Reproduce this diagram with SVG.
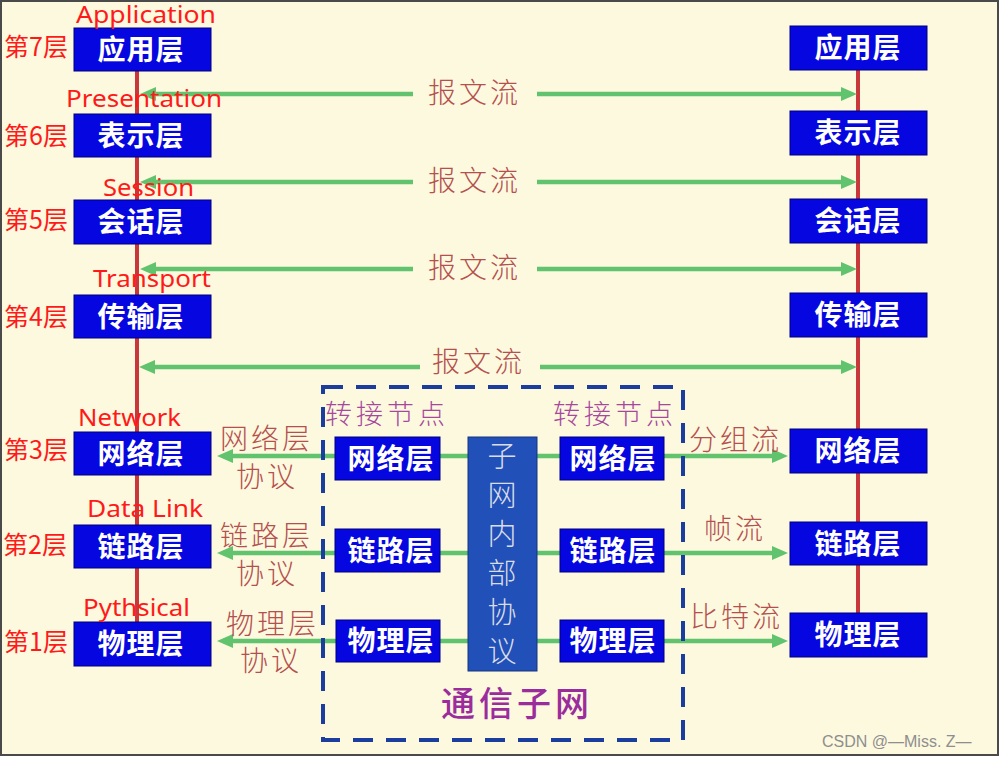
<svg xmlns="http://www.w3.org/2000/svg" width="1008" height="757" viewBox="0 0 1008 757">
<style>
.bg{fill:#fdf9df;stroke:#4a4a4a;stroke-width:2}
.box{fill:#0606e0;stroke:#00007a;stroke-width:1}
.mid{fill:#2150b8;stroke:#17357f;stroke-width:1}
.bt{font-family:"Noto Sans CJK SC",sans-serif;font-weight:bold;font-size:28px;fill:#ffffff;text-anchor:middle;letter-spacing:1px}
.mt{font-family:"Noto Sans CJK SC",sans-serif;font-weight:300;font-size:29px;fill:#d9dde8;text-anchor:middle}
.en{font-family:"Noto Sans","Liberation Sans",sans-serif;font-size:23px;fill:#ff1a1a}
.lv{font-family:"Noto Sans CJK SC",sans-serif;font-size:25px;fill:#ff1a1a}
.fl{font-family:"Noto Sans CJK SC",sans-serif;font-weight:300;font-size:28px;fill:#b4504d;letter-spacing:3px}
.pu{font-family:"Noto Sans CJK SC",sans-serif;font-weight:300;font-size:27px;fill:#a6489c;letter-spacing:4px}
.big{font-family:"Noto Sans CJK SC",sans-serif;font-weight:500;font-size:34px;fill:#9b2c9c;letter-spacing:4px}
.red{stroke:#c8383b;stroke-width:4;fill:none}
.gr{stroke:#62c36e;stroke-width:4.5;fill:none}
.dash{fill:none;stroke:#1b3d9e;stroke-width:4;stroke-dasharray:20 13}
.wm{font-family:"Liberation Sans",Arial,sans-serif;font-size:16px;fill:#8e8e8e}
</style>
<defs>
<marker id="ah" viewBox="0 0 16 14" refX="10" refY="7" markerWidth="16" markerHeight="14" markerUnits="userSpaceOnUse" orient="auto-start-reverse">
<path d="M0,0 L16,7 L0,14 z" fill="#62c36e"/>
</marker>
</defs>
<rect x="-10" y="-10" width="1030" height="780" fill="#ffffff"/>
<rect class="bg" x="1" y="1" width="997" height="754"/>

<g id="connectors">
<path class="red" d="M137,71 V622"/>
<path class="red" d="M858,70 V613"/>
<path class="gr" d="M146,94 H413" marker-start="url(#ah)"/>
<path class="gr" d="M537,94 H851" marker-end="url(#ah)"/>
<path class="gr" d="M146,182 H413" marker-start="url(#ah)"/>
<path class="gr" d="M537,182 H851" marker-end="url(#ah)"/>
<path class="gr" d="M146,269 H413" marker-start="url(#ah)"/>
<path class="gr" d="M537,269 H851" marker-end="url(#ah)"/>
<path class="gr" d="M145,367 H420" marker-start="url(#ah)"/>
<path class="gr" d="M540,367 H851" marker-end="url(#ah)"/>
<path class="gr" d="M223,456 H782" marker-start="url(#ah)" marker-end="url(#ah)"/>
<path class="gr" d="M223,553 H782" marker-start="url(#ah)" marker-end="url(#ah)"/>
<path class="gr" d="M223,641 H782" marker-start="url(#ah)" marker-end="url(#ah)"/>
</g>

<g id="flow-labels">
<text class="fl" x="428" y="103">报文流</text>
<text class="fl" x="428" y="191">报文流</text>
<text class="fl" x="428" y="278">报文流</text>
<text class="fl" x="432" y="372">报文流</text>
<text class="fl" x="220" y="449">网络层</text>
<text class="fl" x="236" y="487">协议</text>
<text class="fl" x="220" y="546">链路层</text>
<text class="fl" x="236" y="584">协议</text>
<text class="fl" x="226" y="634">物理层</text>
<text class="fl" x="240" y="671">协议</text>
<text class="fl" x="689" y="450">分组流</text>
<text class="fl" x="704" y="539">帧流</text>
<text class="fl" x="690" y="627">比特流</text>
</g>

<g id="subnet">
<rect class="dash" x="323" y="387" width="360" height="353"/>
<text class="pu" x="325" y="424">转接节点</text>
<text class="pu" x="553" y="424">转接节点</text>
<text class="big" x="441" y="716">通信子网</text>
</g>

<g id="left-stack">
<g id="L7"><rect class="box" x="74" y="28" width="137" height="43"/><text class="bt" x="141" y="60">应用层</text></g>
<g id="L6"><rect class="box" x="74" y="114" width="137" height="43"/><text class="bt" x="141" y="146">表示层</text></g>
<g id="L5"><rect class="box" x="74" y="200" width="137" height="44"/><text class="bt" x="141" y="232">会话层</text></g>
<g id="L4"><rect class="box" x="74" y="295" width="137" height="43"/><text class="bt" x="141" y="327">传输层</text></g>
<g id="L3"><rect class="box" x="74" y="432" width="137" height="43"/><text class="bt" x="141" y="464">网络层</text></g>
<g id="L2"><rect class="box" x="74" y="525" width="137" height="43"/><text class="bt" x="141" y="557">链路层</text></g>
<g id="L1"><rect class="box" x="74" y="622" width="137" height="44"/><text class="bt" x="141" y="654">物理层</text></g>
</g>

<g id="right-stack">
<g id="R7"><rect class="box" x="790" y="26" width="137" height="44"/><text class="bt" x="858" y="58">应用层</text></g>
<g id="R6"><rect class="box" x="790" y="111" width="137" height="44"/><text class="bt" x="858" y="143">表示层</text></g>
<g id="R5"><rect class="box" x="790" y="199" width="137" height="44"/><text class="bt" x="858" y="231">会话层</text></g>
<g id="R4"><rect class="box" x="790" y="293" width="137" height="44"/><text class="bt" x="858" y="325">传输层</text></g>
<g id="R3"><rect class="box" x="790" y="429" width="137" height="44"/><text class="bt" x="858" y="461">网络层</text></g>
<g id="R2"><rect class="box" x="790" y="522" width="137" height="43"/><text class="bt" x="858" y="554">链路层</text></g>
<g id="R1"><rect class="box" x="790" y="613" width="137" height="44"/><text class="bt" x="858" y="645">物理层</text></g>
</g>

<g id="relay-left">
<g id="IL3"><rect class="box" x="335" y="437" width="105" height="43"/><text class="bt" x="391" y="469">网络层</text></g>
<g id="IL2"><rect class="box" x="335" y="529" width="105" height="43"/><text class="bt" x="391" y="561">链路层</text></g>
<g id="IL1"><rect class="box" x="336" y="620" width="104" height="42"/><text class="bt" x="391" y="651">物理层</text></g>
</g>

<g id="relay-right">
<g id="IR3"><rect class="box" x="560" y="437" width="104" height="43"/><text class="bt" x="613" y="469">网络层</text></g>
<g id="IR2"><rect class="box" x="560" y="529" width="104" height="43"/><text class="bt" x="613" y="561">链路层</text></g>
<g id="IR1"><rect class="box" x="560" y="620" width="104" height="42"/><text class="bt" x="613" y="651">物理层</text></g>
</g>

<g id="subnet-protocol">
<rect class="mid" x="468" y="437" width="69" height="234"/>
<text class="mt" x="502" y="467">子</text>
<text class="mt" x="502" y="506">网</text>
<text class="mt" x="502" y="545">内</text>
<text class="mt" x="502" y="584">部</text>
<text class="mt" x="502" y="623">协</text>
<text class="mt" x="502" y="662">议</text>
</g>

<g id="layer-names">
<text class="en" x="76" y="23" font-size="20" textLength="140" lengthAdjust="spacingAndGlyphs">Application</text>
<text class="en" x="66" y="107" textLength="156" lengthAdjust="spacingAndGlyphs">Presentation</text>
<text class="en" x="103" y="196" font-size="22" textLength="91" lengthAdjust="spacingAndGlyphs">Session</text>
<text class="en" x="93" y="287" textLength="118" lengthAdjust="spacingAndGlyphs">Transport</text>
<text class="en" x="78" y="426" textLength="103" lengthAdjust="spacingAndGlyphs">Network</text>
<text class="en" x="87" y="517" textLength="116" lengthAdjust="spacingAndGlyphs">Data Link</text>
<text class="en" x="83" y="616" textLength="107" lengthAdjust="spacingAndGlyphs">Pythsical</text>
<text class="lv" x="4" y="56">第7层</text>
<text class="lv" x="4" y="145">第6层</text>
<text class="lv" x="4" y="229">第5层</text>
<text class="lv" x="4" y="326">第4层</text>
<text class="lv" x="4" y="459">第3层</text>
<text class="lv" x="3" y="554">第2层</text>
<text class="lv" x="4" y="651">第1层</text>
</g>

<text class="wm" x="822" y="747">CSDN @—Miss. Z—</text>
</svg>
